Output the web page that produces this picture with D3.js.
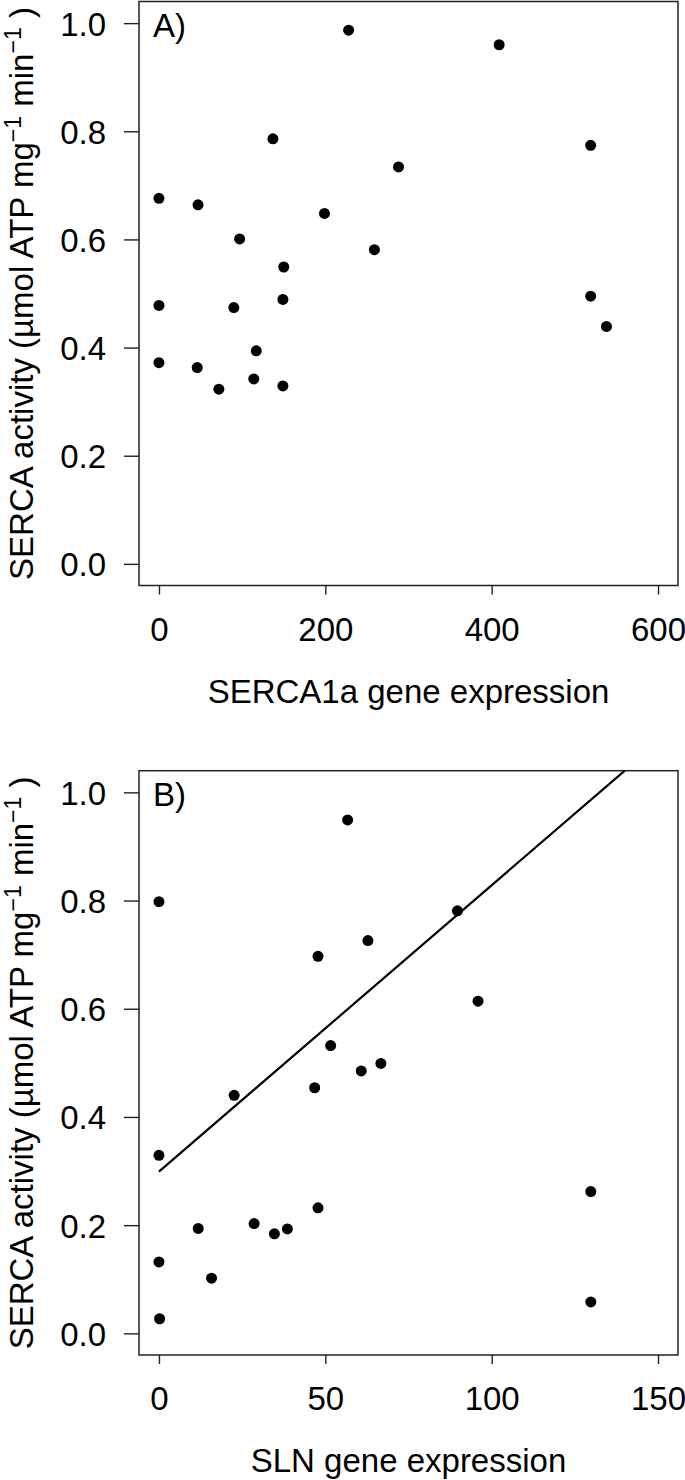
<!DOCTYPE html>
<html>
<head>
<meta charset="utf-8">
<script src="https://cdn.jsdelivr.net/npm/d3@7"></script>
<style>
  html, body { margin: 0; padding: 0; background: #fff; }
  svg { display: block; }
  text { font-family: "Liberation Sans", Arial, Helvetica, sans-serif; fill: #000; }
</style>
</head>
<body>
<svg id="chart" width="685" height="1480"></svg>
<script>
// ---- Data ----
const serca1aX = [228, 409, 137, 288, 519, 0, 47, 199, 97, 259, 150, 0, 90, 149, 519, 538, 117, 0, 46, 114, 72, 149];
const serca1aY = [0.987, 0.960, 0.786, 0.734, 0.774, 0.676, 0.664, 0.648, 0.601, 0.581, 0.549, 0.478, 0.474, 0.489, 0.495, 0.439, 0.394, 0.372, 0.363, 0.342, 0.323, 0.329];

const slnX = [56.7, 0, 89.7, 62.8, 47.8, 95.9, 51.6, 66.7, 60.8, 46.8, 22.6, 0, 129.8, 47.8, 28.6, 11.8, 38.6, 34.7, 0, 15.8, 129.8, 0.2];
const slnY = [0.949, 0.798, 0.781, 0.726, 0.697, 0.614, 0.532, 0.499, 0.485, 0.454, 0.440, 0.329, 0.262, 0.232, 0.203, 0.194, 0.193, 0.184, 0.132, 0.102, 0.058, 0.027];

// fitted regression line (panel B), endpoints
const fitX = [0, 150];
const fitY = [0.299, 1.093];

const yTicks = [0, 0.2, 0.4, 0.6, 0.8, 1.0];
const xTicksA = [0, 200, 400, 600];
const xTicksB = [0, 50, 100, 150];

const panelLabels = ["A)", "B)"];
const xTitles = ["SERCA1a gene expression", "SLN gene expression"];

// ---- Layout ----
const svg = d3.select("#chart");
const FS = 33;
const left = 139, right = 678;

function panel(cfg) {
  const { top, bottom, xDomain, xTicks, xs, ys, label, xTitle, fit, id } = cfg;
  const x = d3.scaleLinear().domain(xDomain).range([left, right]);
  const y = d3.scaleLinear().domain([-0.04, 1.04]).range([bottom, top]);
  const g = svg.append("g");

  // y axis
  const ya = g.append("g").attr("transform", `translate(${left},0)`)
    .call(d3.axisLeft(y).tickValues(yTicks).tickFormat(d3.format(".1f")).tickSize(15).tickPadding(18));
  ya.select(".domain").remove();
  ya.selectAll(".tick line").attr("stroke", "#222").attr("stroke-width", 1.4);
  ya.selectAll(".tick text").attr("font-size", FS).attr("font-family", "Liberation Sans, Arial, sans-serif").attr("fill", "#000").attr("dy", "0.36em");

  // x axis
  const xa = g.append("g").attr("transform", `translate(0,${bottom})`)
    .call(d3.axisBottom(x).tickValues(xTicks).tickFormat(d3.format("d")).tickSize(9).tickPadding(23));
  xa.select(".domain").remove();
  xa.selectAll(".tick line").attr("stroke", "#222").attr("stroke-width", 1.4);
  xa.selectAll(".tick text").attr("font-size", FS).attr("font-family", "Liberation Sans, Arial, sans-serif").attr("fill", "#000");

  // box
  g.append("rect").attr("x", left).attr("y", top).attr("width", right - left).attr("height", bottom - top)
    .attr("fill", "none").attr("stroke", "#222").attr("stroke-width", 1.5);

  // clip
  svg.append("clipPath").attr("id", "clip" + id).append("rect")
    .attr("x", left).attr("y", top).attr("width", right - left).attr("height", bottom - top);

  if (fit) {
    g.append("line").attr("clip-path", `url(#clip${id})`)
      .attr("x1", x(fit.x[0])).attr("y1", y(fit.y[0]))
      .attr("x2", x(fit.x[1])).attr("y2", y(fit.y[1]))
      .attr("stroke", "#000").attr("stroke-width", 2.2);
  }

  g.selectAll("circle.pt").data(xs.map((v, i) => [v, ys[i]])).enter()
    .append("circle").attr("class", "pt")
    .attr("cx", d => x(d[0])).attr("cy", d => y(d[1])).attr("r", 5.5).attr("fill", "#000");

  // panel label
  g.append("text").attr("x", 153).attr("y", top + 35.5).attr("font-size", FS).text(label);

  // x title
  g.append("text").attr("x", (left + right) / 2).attr("y", bottom + 117)
    .attr("text-anchor", "middle").attr("font-size", FS).text(xTitle);

  // y title
  const cy = (top + bottom) / 2;
  const yt = g.append("text").attr("transform", `translate(33,${cy}) rotate(-90)`)
    .attr("text-anchor", "middle").attr("font-size", FS);
  yt.append("tspan").text("SERCA activity (µmol ATP mg");
  yt.append("tspan").attr("dy", -12).attr("font-size", FS * 0.7).text("−1");
  yt.append("tspan").attr("dy", 12).text(" min");
  yt.append("tspan").attr("dy", -12).attr("font-size", FS * 0.7).text("−1");
  yt.append("tspan").attr("dy", 12).text(" )");
}

panel({ id: "A", top: 1.5, bottom: 585.5, xDomain: [-24, 624], xTicks: xTicksA, xs: serca1aX, ys: serca1aY, label: panelLabels[0], xTitle: xTitles[0] });
panel({ id: "B", top: 770.7, bottom: 1355, xDomain: [-6, 156], xTicks: xTicksB, xs: slnX, ys: slnY, label: panelLabels[1], xTitle: xTitles[1], fit: { x: fitX, y: fitY } });
</script>
</body>
</html>
